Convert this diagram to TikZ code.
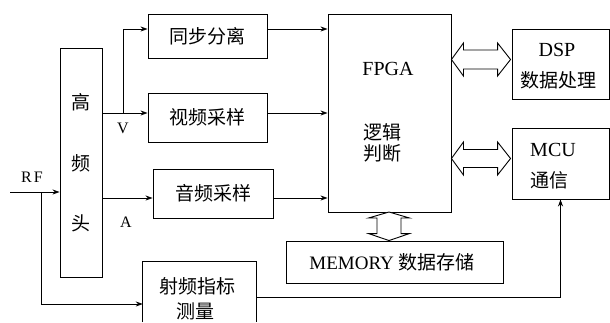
\documentclass[tikz,border=0pt]{standalone}
\usepackage{fontspec}
\setmainfont{Liberation Serif}
\newfontfamily\cjk{Noto Sans CJK SC}
\usetikzlibrary{arrows.meta,calc}
\begin{document}
\begin{tikzpicture}[x=1pt,y=-1pt,
  box/.style={draw,line width=0.9pt,inner sep=0pt},
  cn/.style={font=\cjk\fontsize{19}{22}\selectfont,inner sep=0pt},
  ln/.style={font=\fontsize{20}{22}\selectfont,inner sep=0pt},
  sm/.style={font=\fontsize{16}{18}\selectfont,inner sep=0pt},
  conn/.style={line width=0.8pt},
  arr/.style={line width=0.8pt,-{Stealth[length=7pt,width=5pt]}},
  fat/.style={line width=0.9pt,fill=white}]
\useasboundingbox (0,0) rectangle (610,322);
% boxes
\node[box,minimum width=42pt,minimum height=229pt] (hf) at (81,162.5) {};
\node[cn] at (81,102) {高};
\node[cn] at (81,163) {频};
\node[cn] at (81,223) {头};
\node[box,cn,minimum width=119pt,minimum height=44pt] (sync) at (207.5,36) {同步分离};
\node[box,cn,minimum width=119pt,minimum height=49pt] (vid) at (207.5,117.5) {视频采样};
\node[box,cn,minimum width=120pt,minimum height=49pt] (aud) at (213,193.5) {音频采样};
\node[box,minimum width=123pt,minimum height=198pt] (fpga) at (389.5,113) {};
\node[ln] at (388,69) {FPGA};
\node[cn] at (382,132) {逻辑};
\node[cn] at (382,153) {判断};
\node[box,minimum width=97pt,minimum height=70pt] (dsp) at (560.5,64) {};
\node[ln] at (557,50) {DSP};
\node[cn] at (558,80) {数据处理};
\node[box,minimum width=97pt,minimum height=71pt] (mcu) at (560.5,163.5) {};
\node[ln] at (553,150) {MCU};
\node[cn] at (549,180) {通信};
\node[box,minimum width=217pt,minimum height=42pt] (mem) at (394.5,262) {};
\node[inner sep=0pt] at (392,262) {\fontsize{19}{22}\selectfont MEMORY {\cjk 数据存储}};
\node[minimum width=113pt,minimum height=60pt,inner sep=0pt] (rfm) at (199.5,292) {};
\draw[line width=0.9pt] (rfm.south west) |- (rfm.north east) -- (rfm.south east);
\node[cn] at (197,286) {射频指标};
\node[cn] at (195,311) {测量};
% labels
\node[sm] (rflab) at (32,177) {R\kern2pt F};
\node[sm] (vlab) at (123,128) {V};
\node[sm] (alab) at (126,222) {A};
% coordinates
\coordinate (rfin) at (10,192);
\coordinate (y29) at (0,29);
\coordinate (y113) at (0,113);
\coordinate (y192) at (0,192);
\coordinate (y198) at (0,198);
\coordinate (y297) at (0,297);
\coordinate (y304) at (0,304);
\coordinate (bV) at (123,113);
\coordinate (bR) at (41,192);
% connectors
\draw[arr] (rfin) -- (hf.west |- y192);
\draw[arr] (bR) |- (rfm.west |- y304);
\draw[arr] (hf.east |- y113) -- (vid.west |- y113);
\draw[arr] (bV) |- (sync.west |- y29);
\draw[arr] (hf.east |- y198) -- (aud.west |- y198);
\draw[arr] (sync.east |- y29) -- (fpga.west |- y29);
\draw[arr] (vid.east |- y113) -- (fpga.west |- y113);
\draw[arr] (aud.east |- y198) -- (fpga.west |- y198);
\draw[arr] (rfm.east |- y297) -| (mcu.south);
% fat double arrows
\coordinate (d1) at (fpga.east |- 0,59.5);
\coordinate (d2) at ($(dsp.west |- 0,59.5)+(-1,0)$);
\draw[fat] (d1) -- ++(12,-16.5) -- ++(0,7) -- ($(d2)+(-13,-9.5)$) -- ++(0,-7) -- (d2)
  -- ++(-13,16.5) -- ++(0,-7) -- ($(d1)+(12,9.5)$) -- ++(0,7) -- cycle;
\coordinate (m1) at (fpga.east |- 0,158.5);
\coordinate (m2) at ($(mcu.west |- 0,158.5)+(-1,0)$);
\draw[fat] (m1) -- ++(12,-16.5) -- ++(0,7.5) -- ($(m2)+(-13,-9)$) -- ++(0,-7.5) -- (m2)
  -- ++(-13,16.5) -- ++(0,-7.5) -- ($(m1)+(12,9)$) -- ++(0,7.5) -- cycle;
\coordinate (v1) at (389,212);
\coordinate (v2) at (mem.north -| v1);
\draw[fat] (v1) -- ++(-20.5,6) -- ++(8.5,0) -- ($(v2)+(-12,-7)$) -- ++(-8.5,0) -- (v2)
  -- ++(20.5,-7) -- ++(-8.5,0) -- ($(v1)+(12,6)$) -- ++(8.5,0) -- cycle;
\end{tikzpicture}
\end{document}
